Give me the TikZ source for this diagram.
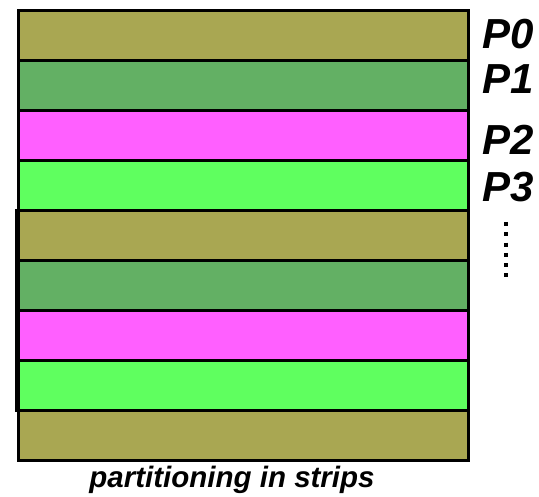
\documentclass[tikz,border=0pt]{standalone}
\usepackage{fontspec}
\setmainfont{Liberation Sans}
\definecolor{olive1}{HTML}{A9A752}
\definecolor{green1}{HTML}{63B064}
\definecolor{mag1}{HTML}{FF5FFF}
\definecolor{green2}{HTML}{5FFF5F}
\begin{document}
\begin{tikzpicture}[x=1pt,y=-1pt,
  strip/.style={draw=black,line width=3pt},
  plabel/.style={anchor=base west,inner sep=0pt,font=\fontsize{42}{42}\selectfont\bfseries\itshape},
  caption/.style={anchor=base,inner sep=0pt,font=\fontsize{29.5}{30}\selectfont\bfseries\itshape}]
\useasboundingbox (0,0) rectangle (539,497);
\foreach \i/\c in {0/olive1,1/green1,2/mag1,3/green2,4/olive1,5/green1,6/mag1,7/green2,8/olive1}{
  \filldraw[strip,fill=\c] (18,{11+50*\i}) rectangle (468,{61+50*\i});
}
\draw[line width=3pt] (16.5,211) rectangle (468,411);
\node[plabel] (p0) at (482,49) {P0};
\node[plabel] (p1) at (482,94) {P1};
\node[plabel] (p2) at (482,155) {P2};
\node[plabel] (p3) at (482,202) {P3};
\draw[line width=4pt,dash pattern=on 4pt off 6.3pt] (506,222) -- (506,280);
\node[caption] (cap) at (232,487) {partitioning in strips};
\end{tikzpicture}
\end{document}
